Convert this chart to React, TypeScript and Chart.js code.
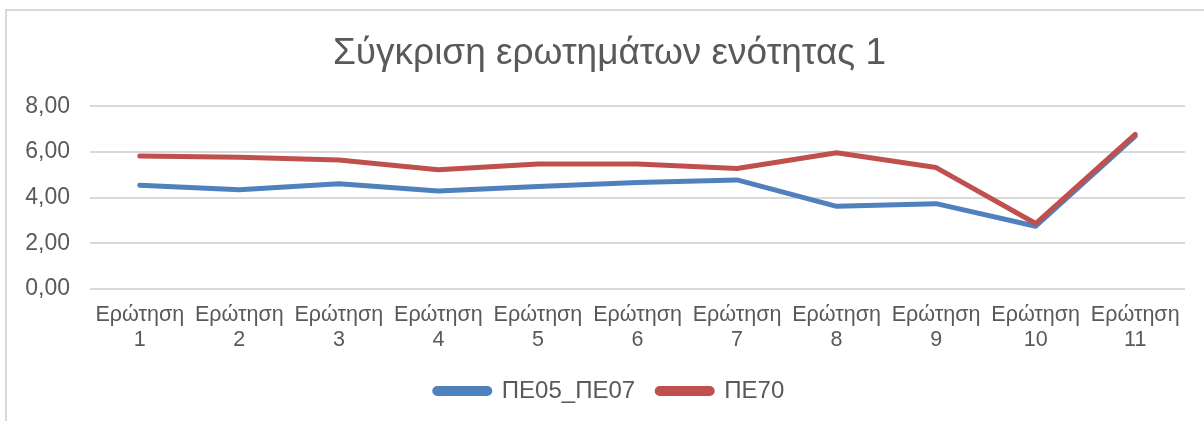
import React, { useEffect, useRef } from "react";
import { Chart, registerables } from "chart.js";

Chart.register(...registerables);

const categories: string[][] = [
  ["Ερώτηση", "1"],
  ["Ερώτηση", "2"],
  ["Ερώτηση", "3"],
  ["Ερώτηση", "4"],
  ["Ερώτηση", "5"],
  ["Ερώτηση", "6"],
  ["Ερώτηση", "7"],
  ["Ερώτηση", "8"],
  ["Ερώτηση", "9"],
  ["Ερώτηση", "10"],
  ["Ερώτηση", "11"],
];
const pe05pe07: number[] = [4.55, 4.35, 4.61, 4.29, 4.49, 4.67, 4.78, 3.62, 3.74, 2.75, 6.7];
const pe70: number[] = [5.83, 5.77, 5.65, 5.22, 5.48, 5.48, 5.28, 5.97, 5.32, 2.87, 6.77];
const yTicks: number[] = [0, 2, 4, 6, 8];
const titleText = "Σύγκριση ερωτημάτων ενότητας 1";

const FONT = "'Liberation Sans', Arial, sans-serif";
const TEXT = "#595959";
const GRID = "#d9d9d9";

export default function App() {
  const ref = useRef<HTMLCanvasElement | null>(null);
  useEffect(() => {
    if (!ref.current) return;
    const chart = new Chart(ref.current, {
      type: "line",
      data: {
        labels: categories,
        datasets: [
          {
            label: "ΠΕ05_ΠΕ07",
            data: pe05pe07,
            borderColor: "#4f81bd",
            backgroundColor: "#4f81bd",
            borderWidth: 5,
            pointRadius: 0,
            tension: 0,
            borderCapStyle: "round",
            borderJoinStyle: "round",
            order: 1,
          },
          {
            label: "ΠΕ70",
            data: pe70,
            borderColor: "#c0504d",
            backgroundColor: "#c0504d",
            borderWidth: 5,
            pointRadius: 0,
            tension: 0,
            borderCapStyle: "round",
            borderJoinStyle: "round",
            order: 0,
          },
        ],
      },
      options: {
        responsive: false,
        animation: false,
        layout: { padding: { top: 10, left: 34, right: 19, bottom: 8 } },
        plugins: {
          tooltip: { enabled: false },
          title: {
            display: true,
            text: titleText,
            color: TEXT,
            font: { family: FONT, size: 37, weight: "normal" },
            padding: { top: 22, bottom: 30 },
          },
          legend: {
            position: "bottom",
            labels: {
              color: TEXT,
              font: { family: FONT, size: 24 },
              boxWidth: 55,
              boxHeight: 5,
              useBorderRadius: true,
              borderRadius: 2.5,
              padding: 22,
              sort: (a: any, b: any) => a.datasetIndex - b.datasetIndex,
            },
          },
        },
        scales: {
          x: {
            offset: true,
            grid: { display: false, drawTicks: false },
            border: { display: false },
            ticks: {
              color: TEXT,
              font: { family: FONT, size: 21.5, lineHeight: 1.18 },
              padding: 13,
              maxRotation: 0,
              autoSkip: false,
            },
            afterFit: (axis: any) => {
              axis.height = 68;
            },
          },
          y: {
            min: 0,
            max: 8,
            afterBuildTicks: (axis: any) => {
              axis.ticks = yTicks.map((v) => ({ value: v }));
            },
            grid: { color: GRID, lineWidth: 2, drawTicks: false },
            border: { display: false },
            ticks: {
              color: TEXT,
              font: { family: FONT, size: 23 },
              padding: 20,
              callback: (v: any) => Number(v).toFixed(2).replace(".", ","),
            },
            afterFit: (axis: any) => {
              axis.width = 56;
              axis._computeLabelArea = () => undefined;
            },
          },
        },
      },
    });
    return () => chart.destroy();
  }, []);

  return (
    <div style={{ position: "absolute", left: 0, top: 0, width: 1204, height: 421, overflow: "hidden", background: "#fff" }}>
      <div
        style={{
          position: "absolute",
          left: 5,
          top: 9,
          width: 1400,
          height: 600,
          borderLeft: `2px solid ${GRID}`,
          borderTop: `2px solid ${GRID}`,
        }}
      />
      <canvas ref={ref} width={1204} height={421} style={{ position: "absolute", left: 0, top: 0, display: "block" }} />
    </div>
  );
}
